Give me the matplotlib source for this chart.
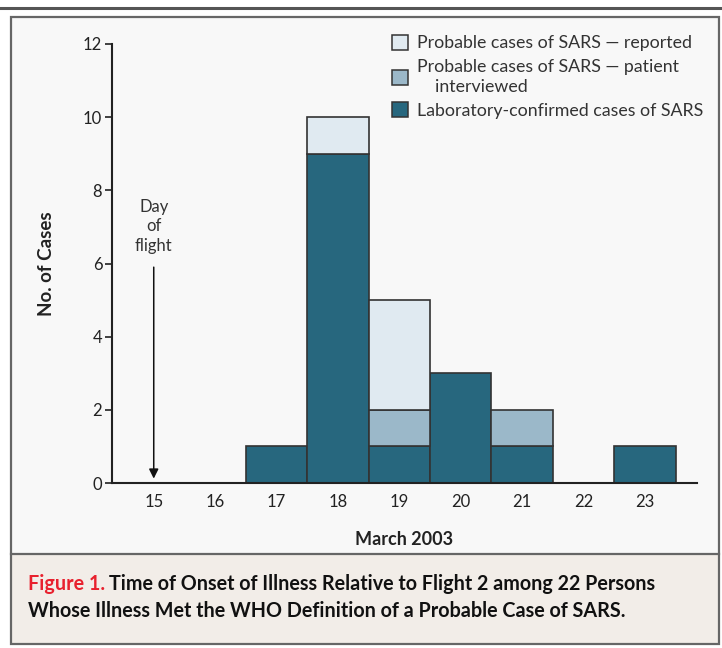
import numpy as np
import matplotlib.pyplot as plt
from matplotlib.patches import Rectangle, Patch
from matplotlib.lines import Line2D

# days of March 2003 and case counts per day
days = [15, 16, 17, 18, 19, 20, 21, 22, 23]
lab_confirmed = [0, 0, 1, 9, 1, 3, 1, 0, 1]
interviewed = [0, 0, 0, 0, 1, 0, 1, 0, 0]
reported = [0, 0, 0, 1, 3, 0, 0, 0, 0]
flight_day = 15

dark = '#27677e'
mid = '#9bb8c9'
light = '#e0eaf1'
edge = '#333333'

plt.rcParams['font.family'] = ['Lato', 'DejaVu Sans']

fig = plt.figure(figsize=(7.22, 6.48), dpi=100)
fig.patch.set_facecolor('white')

W, H = 722.0, 648.0
def fx(x): return x / W
def fy(y): return 1 - y / H

# frame pieces (behind the axes)
fig.add_artist(Line2D([0, 1], [fy(8), fy(8)], color='#555555', lw=2.2, zorder=-5))
fig.add_artist(Rectangle((fx(11), fy(554)), fx(708), fy(17) - fy(554),
                         facecolor='#f8f8f8', edgecolor='none', zorder=-5))
fig.add_artist(Rectangle((fx(11), fy(644)), fx(708), fy(554) - fy(644),
                         facecolor='#f2ede8', edgecolor='none', zorder=-5))
fig.add_artist(Rectangle((fx(11), fy(644)), fx(708), fy(17) - fy(644),
                         facecolor='none', edgecolor='#666666', lw=1.6, zorder=-4))
fig.add_artist(Line2D([fx(11), fx(719)], [fy(554), fy(554)], color='#666666', lw=1.6, zorder=-4))

ax = fig.add_axes([fx(112), fy(483), fx(697) - fx(112), fy(44) - fy(483)])
ax.set_facecolor('none')

d = np.array(days)
lab = np.array(lab_confirmed)
intv = np.array(interviewed)
rep = np.array(reported)

m = lab > 0
ax.bar(d[m], lab[m], width=1, color=dark, edgecolor=edge, lw=1.2, zorder=2)
m = intv > 0
ax.bar(d[m], intv[m], bottom=lab[m], width=1, color=mid, edgecolor=edge, lw=1.2, zorder=2)
m = rep > 0
ax.bar(d[m], rep[m], bottom=(lab + intv)[m], width=1, color=light, edgecolor=edge, lw=1.2, zorder=2)

ax.set_xlim(14.32, 23.85)
ax.set_ylim(0, 12)
ax.set_yticks(range(0, 13, 2))
ax.set_xticks(days)
ax.tick_params(axis='x', length=0, pad=8, labelsize=12, colors='#222222')
ax.tick_params(axis='y', length=5, width=1.2, pad=2, labelsize=12, colors='#222222')
for s in ['top', 'right']:
    ax.spines[s].set_visible(False)
for s in ['left', 'bottom']:
    ax.spines[s].set_linewidth(1.5)
    ax.spines[s].set_color('#222222')

ax.set_xlabel('March 2003', fontsize=13, fontweight='bold', labelpad=15, color='#222222')
ax.set_ylabel('No. of Cases', fontsize=13.5, fontweight='bold', labelpad=20, color='#222222')

# day of flight arrow
ax.annotate('', xy=(flight_day, 0.12), xytext=(flight_day, 5.9),
            arrowprops=dict(arrowstyle='-|>', color='#111111', lw=1.1,
                            mutation_scale=14, shrinkA=0, shrinkB=0))
ax.text(flight_day, 6.25, 'Day\nof\nflight', ha='center', va='bottom',
        fontsize=12, color='#333333', linespacing=1.3)

handles = [Patch(facecolor=light, edgecolor=edge, lw=1.1),
           Patch(facecolor=mid, edgecolor=edge, lw=1.1),
           Patch(facecolor=dark, edgecolor=edge, lw=1.1)]
labels = ['Probable cases of SARS \u2014 reported',
          'Probable cases of SARS \u2014 patient\n    interviewed',
          'Laboratory-confirmed cases of SARS']
leg = ax.legend(handles, labels, loc='upper left', bbox_to_anchor=(fx(392), fy(35)),
                bbox_transform=fig.transFigure, frameon=False, fontsize=12.8,
                handlelength=0.88, handleheight=0.88, handletextpad=0.5,
                labelspacing=0.42, borderpad=0, borderaxespad=0)
for t in leg.get_texts():
    t.set_color('#333333')
    t.set_linespacing(1.32)

# caption
t1 = fig.text(fx(28), fy(590), 'Figure 1.', color='#e8212e', fontsize=14.2,
              fontweight='bold', ha='left', va='baseline')
fig.canvas.draw()
r = fig.canvas.get_renderer()
bb = t1.get_window_extent(r)
fig.text(bb.x1 / W + fx(4), fy(590),
         'Time of Onset of Illness Relative to Flight 2 among 22 Persons',
         color='#111111', fontsize=14.2, fontweight='bold', ha='left', va='baseline')
fig.text(fx(28), fy(617),
         'Whose Illness Met the WHO Definition of a Probable Case of SARS.',
         color='#111111', fontsize=14.2, fontweight='bold', ha='left', va='baseline')

fig.savefig('out.png', dpi=100)
